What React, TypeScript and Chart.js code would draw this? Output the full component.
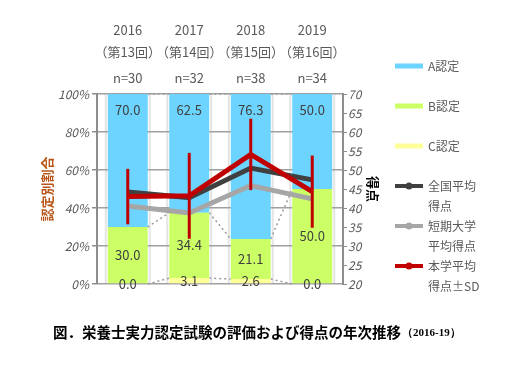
import React, { useEffect, useRef } from 'react';
import { Chart, registerables } from 'chart.js';

Chart.register(...registerables);

// ---- data ----
const years = ['2016', '2017', '2018', '2019'];
const rounds = ['（第13回）', '（第14回）', '（第15回）', '（第16回）'];
const nLabels = ['n=30', 'n=32', 'n=38', 'n=34'];

const gradeA = [70.0, 62.5, 76.3, 50.0];
const gradeB = [30.0, 34.4, 21.1, 50.0];
const gradeC = [0.0, 3.1, 2.6, 0.0];

const nationalAvg = [44.2, 42.7, 50.5, 47.4];
const juniorCollegeAvg = [40.5, 38.7, 45.9, 42.4];
const ourAvg = [43.0, 43.2, 54.1, 44.3];
const ourSD = [7.3, 11.3, 9.4, 9.5];

const legendLines = [
  ['A認定'],
  ['B認定'],
  ['C認定'],
  ['全国平均', '得点'],
  ['短期大学', '平均得点'],
  ['本学平均', '得点±SD'],
];

const CAPTION_MAIN = '図．栄養士実力認定試験の評価および得点の年次推移';
const CAPTION_SUB = '（2016-19）';

// ---- styles ----
const FONT = "'Noto Sans CJK JP', 'Noto Sans', sans-serif";
const COLOR_A = '#6CD4FF';
const COLOR_B = '#CCFF66';
const COLOR_C = '#FFFF99';
const COLOR_NAT = '#404040';
const COLOR_JC = '#A6A6A6';
const COLOR_OUR = '#C00000';
const AXIS_GRAY = '#8c8c8c';
const TICK_GRAY = '#595959';

const gapShadePlugin = {
  id: 'gapShade',
  beforeDraw(chart: any) {
    const meta = chart.getDatasetMeta(0);
    const { ctx, chartArea } = chart;
    ctx.save();
    ctx.strokeStyle = '#e4e4e4';
    ctx.lineWidth = 2;
    meta.data.forEach((el: any) => {
      const { x, width } = el.getProps(['x', 'width'], true);
      [x - width / 2 - 2, x + width / 2 + 2].forEach((px) => {
        ctx.beginPath();
        ctx.moveTo(px, chartArea.top);
        ctx.lineTo(px, chartArea.bottom);
        ctx.stroke();
      });
    });
    ctx.restore();
  },
};

const seriesLinesPlugin = {
  id: 'seriesLines',
  beforeDatasetsDraw(chart: any) {
    const { ctx } = chart;
    ctx.save();
    ctx.strokeStyle = '#9a9a9a';
    ctx.lineWidth = 1.5;
    ctx.setLineDash([2, 3]);
    chart.data.datasets.forEach((ds: any, di: number) => {
      if (ds.type !== 'bar') return;
      const els = chart.getDatasetMeta(di).data;
      for (let i = 0; i < els.length - 1; i++) {
        const a = els[i].getProps(['x', 'y', 'width'], true);
        const b = els[i + 1].getProps(['x', 'y', 'width'], true);
        ctx.beginPath();
        ctx.moveTo(a.x + a.width / 2, a.y);
        ctx.lineTo(b.x - b.width / 2, b.y);
        ctx.stroke();
      }
    });
    ctx.restore();
  },
};

const barLabelPlugin = {
  id: 'barLabels',
  afterDatasetDraw(chart: any, args: any) {
    const ds = chart.data.datasets[args.index];
    if (ds.type !== 'bar') return;
    const { ctx } = chart;
    ctx.save();
    ctx.font = `13px ${FONT}`;
    ctx.fillStyle = '#404040';
    ctx.textAlign = 'center';
    ctx.textBaseline = 'middle';
    args.meta.data.forEach((el: any, i: number) => {
      const { x, y, base } = el.getProps(['x', 'y', 'base'], true);
      const ty = ds.labelPos === 'top' ? y + 16 : (y + base) / 2;
      ctx.fillText(Number(ds.data[i]).toFixed(1), x, ty);
    });
    ctx.restore();
  },
};

const errorBarPlugin = {
  id: 'errorBars',
  beforeDatasetDraw(chart: any, args: any) {
    const ds = chart.data.datasets[args.index];
    if (!ds.sd) return;
    const { ctx } = chart;
    const yScale = chart.scales[ds.yAxisID];
    ctx.save();
    ctx.strokeStyle = COLOR_OUR;
    ctx.lineWidth = 3;
    args.meta.data.forEach((el: any, i: number) => {
      const { x } = el.getProps(['x'], true);
      const m = ds.data[i];
      const s = ds.sd[i];
      ctx.beginPath();
      ctx.moveTo(x, yScale.getPixelForValue(m + s));
      ctx.lineTo(x, yScale.getPixelForValue(m - s));
      ctx.stroke();
    });
    ctx.restore();
  },
};

// legend drawn to the right of the right axis
const legendPlugin = {
  id: 'sideLegend',
  afterDraw(chart: any) {
    const { ctx } = chart;
    const y2 = chart.scales.y2;
    const x0 = y2.right;
    const order = [2, 1, 0, 3, 4, 5];
    ctx.save();
    ctx.font = `12px ${FONT}`;
    ctx.textBaseline = 'middle';
    ctx.textAlign = 'left';
    legendLines.forEach((lines, i) => {
      const ds = chart.data.datasets[order[i]];
      const cy = 66 + i * 40;
      const color = ds.backgroundColor;
      if (ds.type === 'bar') {
        ctx.fillStyle = color;
        ctx.fillRect(x0, cy - 2.5, 28, 5);
      } else {
        ctx.strokeStyle = color;
        ctx.lineWidth = 4;
        ctx.beginPath();
        ctx.moveTo(x0, cy);
        ctx.lineTo(x0 + 28, cy);
        ctx.stroke();
        ctx.fillStyle = color;
        ctx.beginPath();
        ctx.arc(x0 + 14, cy, 3.5, 0, Math.PI * 2);
        ctx.fill();
      }
      ctx.fillStyle = TICK_GRAY;
      lines.forEach((t, j) => ctx.fillText(t, x0 + 33, cy + j * 20));
    });
    ctx.restore();
  },
};

const captionPlugin = {
  id: 'caption',
  afterDraw(chart: any) {
    const { ctx } = chart;
    ctx.save();
    ctx.fillStyle = '#000';
    ctx.textBaseline = 'middle';
    ctx.textAlign = 'left';
    ctx.font = `bold 14.5px ${FONT}`;
    ctx.fillText(CAPTION_MAIN, 53, 332);
    const w = ctx.measureText(CAPTION_MAIN).width;
    ctx.font = `bold 11px 'Liberation Serif', serif`;
    ctx.fillText(CAPTION_SUB, 53 + w + 1, 333);
    ctx.restore();
  },
};

export default function App() {
  const ref = useRef<HTMLCanvasElement>(null);

  useEffect(() => {
    const chart = new Chart(ref.current as HTMLCanvasElement, {
      type: 'bar',
      data: {
        labels: years,
        datasets: [
          { type: 'bar', label: 'C認定', data: gradeC, backgroundColor: COLOR_C, stack: 's', order: 10, xAxisID: 'x', yAxisID: 'y', labelPos: 'center' } as any,
          { type: 'bar', label: 'B認定', data: gradeB, backgroundColor: COLOR_B, stack: 's', order: 10, xAxisID: 'x', yAxisID: 'y', labelPos: 'center' } as any,
          { type: 'bar', label: 'A認定', data: gradeA, backgroundColor: COLOR_A, stack: 's', order: 10, xAxisID: 'x', yAxisID: 'y', labelPos: 'top' } as any,
          { type: 'line', label: '全国平均得点', data: nationalAvg, borderColor: COLOR_NAT, backgroundColor: COLOR_NAT, borderWidth: 5, pointRadius: 0, tension: 0, xAxisID: 'x', yAxisID: 'y2', order: 3 } as any,
          { type: 'line', label: '短期大学平均得点', data: juniorCollegeAvg, borderColor: COLOR_JC, backgroundColor: COLOR_JC, borderWidth: 5, pointRadius: 0, tension: 0, xAxisID: 'x', yAxisID: 'y2', order: 4 } as any,
          { type: 'line', label: '本学平均得点±SD', data: ourAvg, sd: ourSD, borderColor: COLOR_OUR, backgroundColor: COLOR_OUR, borderWidth: 5, pointRadius: 0, tension: 0, xAxisID: 'x', yAxisID: 'y2', order: 1 } as any,
        ],
      },
      options: {
        responsive: false,
        animation: false,
        layout: { padding: { left: 35, right: 131, top: 10, bottom: 88 } },
        datasets: { bar: { categoryPercentage: 1, barPercentage: 0.65 } },
        scales: {
          x: {
            type: 'category',
            position: 'top',
            stacked: true,
            weight: 0,
            grid: { display: false, drawTicks: false },
            border: { display: false },
            ticks: {
              padding: 8,
              autoSkip: false,
              color: TICK_GRAY,
              font: { family: FONT, size: 13, lineHeight: 1.2 },
              maxRotation: 0,
              callback: (_v: any, i: number) => nLabels[i],
            },
            afterFit: (s: any) => { s.height = 30; },
          },
          xYear: {
            type: 'category',
            position: 'top',
            weight: 1,
            grid: { display: false, drawTicks: false },
            border: { display: false },
            ticks: {
              padding: 1,
              autoSkip: false,
              color: TICK_GRAY,
              font: { family: FONT, size: 13, lineHeight: '22px' },
              maxRotation: 0,
              callback: (_v: any, i: number) => [years[i], rounds[i]],
            },
            afterFit: (s: any) => { s.height = 54; },
          },
          y: {
            position: 'left',
            stacked: true,
            min: 0,
            max: 100,
            ticks: {
              stepSize: 20,
              padding: 3,
              color: TICK_GRAY,
              font: { family: FONT, size: 12, style: 'italic' },
              callback: (v: any) => `${v}%`,
            },
            grid: { color: '#a0a0a0', lineWidth: 1.5, tickLength: 5, tickColor: AXIS_GRAY },
            border: { color: AXIS_GRAY, width: 2 },
            title: {
              display: true,
              text: '認定別割合',
              color: '#B8561A',
              font: { family: FONT, size: 13, weight: 'bold' },
              padding: { top: 4, bottom: 0 },
            },
            afterFit: (s: any) => { s.width = 62; },
          },
          y2: {
            position: 'right',
            min: 20,
            max: 70,
            ticks: {
              stepSize: 5,
              padding: 1,
              color: TICK_GRAY,
              font: { family: FONT, size: 12, style: 'italic' },
            },
            grid: { drawOnChartArea: false, tickLength: 4, color: AXIS_GRAY },
            border: { color: AXIS_GRAY, width: 2 },
            title: {
              display: true,
              text: '得点',
              color: '#000',
              font: { family: FONT, size: 13, weight: 'bold' },
              padding: { top: 14, bottom: 0 },
            },
            afterFit: (s: any) => { s.width = 52; },
          },
        },
        plugins: {
          legend: { display: false },
          tooltip: { enabled: false },
        },
      } as any,
      plugins: [gapShadePlugin, seriesLinesPlugin, barLabelPlugin, errorBarPlugin, legendPlugin, captionPlugin],
    });
    return () => chart.destroy();
  }, []);

  return (
    <div style={{ position: 'absolute', left: 0, top: 0, width: 526, height: 372, background: '#fff' }}>
      <canvas ref={ref} width={526} height={372} />
    </div>
  );
}
